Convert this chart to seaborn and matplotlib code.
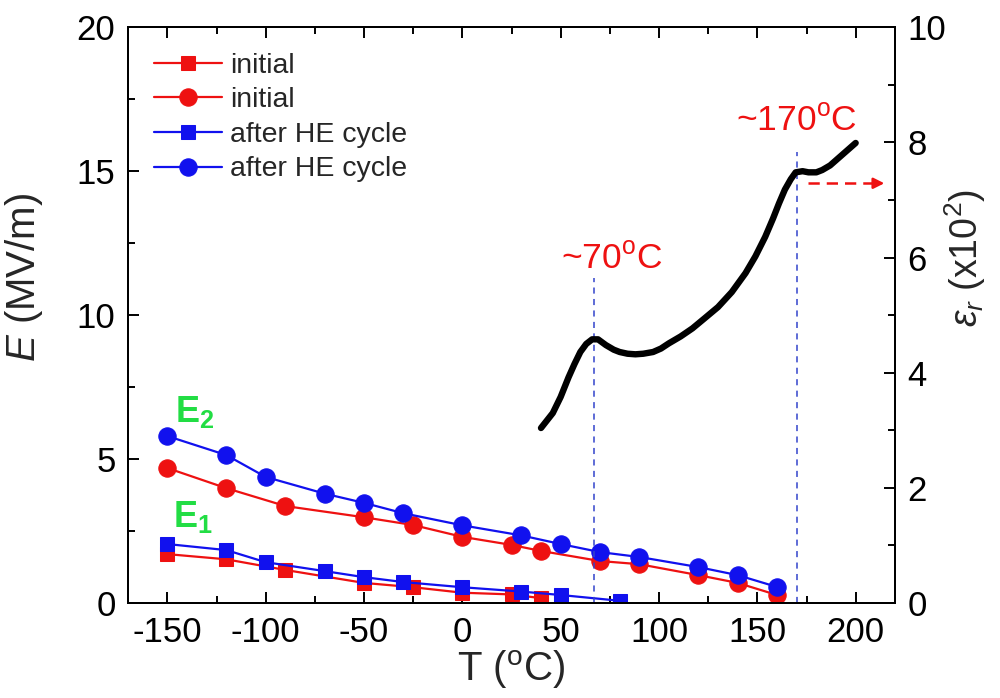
import matplotlib
matplotlib.use("Agg")
import matplotlib.pyplot as plt
from matplotlib.ticker import MultipleLocator
import seaborn as sns
import pandas as pd

# Breakdown-field branches E1 / E2 versus temperature
t_e1_init = [-150, -120, -90, -50, -25, 0, 25, 40]
e1_init = [1.70, 1.52, 1.15, 0.70, 0.55, 0.36, 0.30, 0.17]

t_e2_init = [-150, -120, -90, -50, -25, 0, 25, 40, 70, 90, 120, 140, 160]
e2_init = [4.69, 3.99, 3.37, 2.98, 2.71, 2.30, 2.02, 1.81, 1.46, 1.35, 0.97, 0.70, 0.28]

t_e1_he = [-150, -120, -100, -70, -50, -30, 0, 30, 50, 80]
e1_he = [2.05, 1.84, 1.42, 1.11, 0.90, 0.73, 0.55, 0.40, 0.28, 0.08]

t_e2_he = [-150, -120, -100, -70, -50, -30, 0, 30, 50, 70, 90, 120, 140, 160]
e2_he = [5.80, 5.14, 4.38, 3.80, 3.48, 3.12, 2.70, 2.35, 2.05, 1.77, 1.60, 1.25, 0.97, 0.56]

# Relative permittivity (x10^2) versus temperature
t_eps = [40, 46, 50, 54, 57, 60, 63, 66, 69, 73, 77, 80, 84, 88, 92, 97, 101, 105,
         111, 117, 123, 130, 137, 144, 149, 154, 158, 161, 164, 167, 169.5, 173,
         176, 180, 183, 187, 191, 195, 200]
eps = [3.04, 3.30, 3.58, 3.92, 4.15, 4.36, 4.50, 4.58, 4.58, 4.48, 4.40, 4.36, 4.33,
       4.32, 4.33, 4.36, 4.42, 4.51, 4.63, 4.77, 4.94, 5.14, 5.40, 5.73, 6.02, 6.36,
       6.68, 6.94, 7.18, 7.36, 7.48, 7.50, 7.48, 7.48, 7.52, 7.60, 7.72, 7.84, 7.99]

# Transition temperatures with labels, and the heights of their guide lines (E units)
trans_T = [67, 170]
trans_top = [11.3, 15.66]
trans_labels = ["~70$^{\\mathrm{o}}$C", "~170$^{\\mathrm{o}}$C"]
trans_label_T = [76, 170]
trans_label_E = [11.95, 16.75]

# Arrow pointing to the permittivity axis (x from/to, y in x10^2 units)
arrow_T = [176, 216]
arrow_eps = 7.29

sns.set_theme(style="ticks")
plt.rcParams["font.family"] = ["Liberation Sans", "DejaVu Sans"]
plt.rcParams["mathtext.fontset"] = "custom"
plt.rcParams["mathtext.rm"] = "Liberation Sans"
plt.rcParams["mathtext.it"] = "Liberation Sans:italic"
plt.rcParams["mathtext.bf"] = "Liberation Sans:bold"
plt.rcParams["axes.unicode_minus"] = False

RED = "#ee1111"
BLUE = "#1111ee"
GREEN = "#22dd44"
GUIDE = "#3344cc"

fig = plt.figure(figsize=(10, 6.98), dpi=100)
ax = fig.add_axes([0.128, 0.136, 0.767, 0.825])
ax2 = ax.twinx()

series = [
    (t_e1_init, e1_init, RED, "s", 10, "initial"),
    (t_e2_init, e2_init, RED, "o", 12.5, "initial"),
    (t_e1_he, e1_he, BLUE, "s", 10, "after HE cycle"),
    (t_e2_he, e2_he, BLUE, "o", 12.5, "after HE cycle"),
]
for tt, ee, col, mk, ms, lab in series:
    df = pd.DataFrame({"T": tt, "E": ee})
    sns.lineplot(data=df, x="T", y="E", ax=ax, color=col, marker=mk, markersize=ms,
                 markeredgecolor=col, linewidth=1.6, label=lab)

# Transition guide lines and labels
ax.vlines(trans_T, 0, trans_top, colors=GUIDE, linestyles=(0, (4, 3.5)), linewidth=1.1)
for x, y, s in zip(trans_label_T, trans_label_E, trans_labels):
    ax.text(x, y, s, color=RED, fontsize=25.5, ha="center", va="center")

# Branch labels
ax.text(-136, 6.63, r"$\mathbf{E_2}$", color=GREEN, fontsize=26, ha="center", va="center")
ax.text(-137, 2.99, r"$\mathbf{E_1}$", color=GREEN, fontsize=26, ha="center", va="center")

# Permittivity curve on the right axis
df_eps = pd.DataFrame({"T": t_eps, "eps": eps})
sns.lineplot(data=df_eps, x="T", y="eps", ax=ax2, color="black", linewidth=4.6,
             solid_capstyle="round", solid_joinstyle="round")

ax2.plot([arrow_T[0], arrow_T[1] - 5], [arrow_eps, arrow_eps], color=RED,
         linestyle=(0, (4.5, 2.8)), linewidth=1.8)
ax2.annotate("", xy=(arrow_T[1], arrow_eps), xytext=(arrow_T[1] - 8, arrow_eps),
             arrowprops=dict(arrowstyle="-|>", color=RED, lw=1.8, mutation_scale=16))

# Axes limits, ticks, labels
ax.set_xlim(-170, 220)
ax.set_ylim(0, 20)
ax2.set_ylim(0, 10)
ax.set_xticks([-150, -100, -50, 0, 50, 100, 150, 200])
ax.set_yticks([0, 5, 10, 15, 20])
ax2.set_yticks([0, 2, 4, 6, 8, 10])
ax.xaxis.set_minor_locator(MultipleLocator(25))
ax.yaxis.set_minor_locator(MultipleLocator(2.5))
ax2.yaxis.set_minor_locator(MultipleLocator(1))

ax.tick_params(axis="both", which="both", direction="in", width=1.4, labelsize=25,
               top=True, right=False, colors="black")
ax.tick_params(which="major", length=8, pad=9)
ax.tick_params(which="minor", length=5)
ax2.tick_params(axis="y", which="both", direction="in", width=1.4, labelsize=25, colors="black")
ax2.tick_params(which="major", length=8, pad=9)
ax2.tick_params(which="minor", length=5)

for a in (ax, ax2):
    for sp in a.spines.values():
        sp.set_linewidth(1.4)
        sp.set_color("black")
        sp.set_visible(True)

ax.set_xlabel("T ($^{\\mathrm{o}}$C)", fontsize=29, labelpad=0)
ax.set_ylabel("$E$ (MV/m)", fontsize=29)
ax2.set_ylabel(r"$\varepsilon_r$ (x10$^2$)", fontsize=27)
ax.yaxis.set_label_coords(-0.108, 0.566)
ax2.yaxis.set_label_coords(1.062, 0.60)

ax.legend(loc="upper left", frameon=False, fontsize=20.5, handlelength=2.4,
          handletextpad=0.3, labelspacing=0.3, borderaxespad=0.5, borderpad=0.4)

fig.savefig("out.png", dpi=100)
